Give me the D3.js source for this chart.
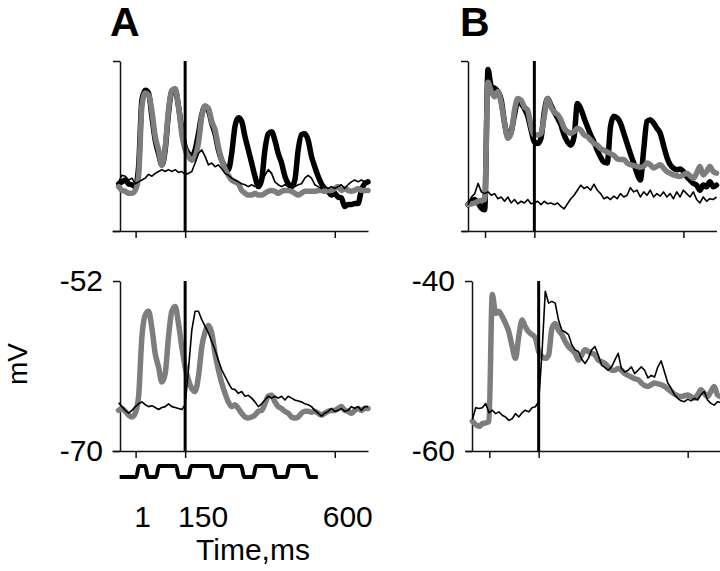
<!DOCTYPE html>
<html><head><meta charset="utf-8">
<script src="https://cdn.jsdelivr.net/npm/d3@7"></script>
<style>
html,body{margin:0;padding:0;background:#fff;}
svg{display:block;font-family:"Liberation Sans",Arial,sans-serif;}
</style></head>
<body><svg id="chart" width="720" height="571"></svg>
<script>
// ---- data (time in ms, membrane potential in mV) ----
const timeMs = [-50,-40,-30,-20,-10,0,10,20,30,40,50,60,70,80,90,100,110,120,130,140,150,160,170,180,190,200,210,220,230,240,250,260,270,280,290,300,310,320,330,340,350,360,370,380,390,400,410,420,430,440,450,460,470,480,490,500,510,520,530,540,550,560,570,580,590,600,610,620,630,640,650,660,670,680,690,700];

const aTopBlack = [-65.0,-64.8,-64.6,-65.0,-65.1,-65.3,-63.2,-56.1,-55.1,-55.4,
 -57.9,-60.4,-61.8,-63.0,-61.4,-57.5,-55.2,-55.1,-56.8,-59.3,
 -61.1,-61.8,-62.1,-61.4,-59.7,-57.7,-56.8,-57.2,-58.6,-59.7,
 -61.4,-62.5,-63.2,-63.5,-61.8,-58.9,-58.0,-58.4,-60.0,-61.4,
 -62.8,-64.2,-65.3,-64.6,-61.4,-59.7,-59.5,-60.4,-61.8,-62.8,
 -64.2,-65.0,-65.3,-64.6,-61.4,-59.8,-59.7,-60.4,-62.1,-63.2,
 -64.2,-65.0,-65.5,-65.8,-66.2,-66.0,-66.4,-66.5,-67.4,-67.2,
 -67.2,-67.1,-67.1,-65.7,-65.0,-64.8];
const aTopGray = [-65.3,-65.7,-65.8,-66.0,-66.0,-65.7,-64.2,-56.8,-55.4,-55.6,
 -57.3,-60.0,-61.4,-63.0,-61.1,-57.2,-55.1,-54.9,-56.8,-59.7,
 -61.4,-62.1,-62.5,-62.1,-60.7,-57.9,-56.8,-57.0,-58.4,-59.3,
 -61.1,-62.5,-63.4,-64.1,-64.6,-64.8,-65.0,-65.7,-66.0,-66.2,
 -66.2,-66.0,-66.2,-66.2,-66.0,-65.8,-65.7,-65.8,-66.0,-65.8,
 -65.7,-65.7,-65.8,-66.0,-66.2,-66.0,-65.8,-65.8,-65.8,-65.8,
 -65.7,-65.7,-65.8,-65.7,-65.7,-65.5,-65.3,-65.7,-65.5,-65.7,
 -65.8,-65.7,-65.5,-65.7,-65.7,-65.7];
const aTopThin = [-64.8,-64.1,-64.2,-64.6,-64.4,-65.0,-64.8,-64.6,-64.4,-64.0,
 -64.2,-63.9,-63.7,-63.5,-63.7,-63.5,-63.7,-63.5,-63.8,-63.7,
 -64.0,-63.9,-63.7,-62.8,-61.8,-61.4,-62.1,-63.0,-62.8,-63.2,
 -63.0,-63.4,-63.9,-64.1,-64.4,-64.6,-64.8,-65.0,-65.1,-65.3,
 -65.1,-65.3,-65.1,-64.8,-64.1,-63.5,-63.9,-64.8,-65.1,-65.3,
 -65.1,-65.3,-65.2,-65.3,-65.1,-65.0,-64.4,-64.1,-64.4,-65.1,
 -65.3,-65.5,-65.3,-65.5,-65.3,-65.5,-65.3,-65.1,-65.5,-65.1,
 -64.8,-64.6,-64.8,-64.6,-64.8,-64.6];

const aBotGray = [-65.7,-65.5,-65.8,-66.2,-66.4,-66.0,-64.2,-57.9,-55.6,-55.2,
 -57.0,-59.7,-61.1,-62.7,-61.8,-57.9,-55.2,-54.7,-56.5,-59.0,
 -61.1,-62.5,-63.4,-63.7,-62.1,-59.0,-57.4,-56.7,-57.5,-59.7,
 -61.4,-62.8,-63.9,-64.8,-65.3,-65.1,-65.5,-66.0,-66.4,-66.5,
 -66.4,-66.2,-65.8,-65.7,-65.0,-64.2,-64.1,-64.8,-65.3,-65.5,
 -65.8,-66.0,-66.4,-66.5,-66.4,-66.0,-65.8,-65.8,-65.9,-65.8,
 -66.0,-66.2,-66.0,-65.8,-65.7,-65.7,-65.5,-65.3,-65.7,-65.8,
 -66.0,-65.7,-65.5,-65.7,-65.5,-65.5];
const aBotThin = [-64.9,-65.3,-65.7,-66.0,-65.7,-65.3,-65.0,-64.8,-65.1,-65.3,
 -65.2,-65.4,-65.6,-65.4,-65.3,-65.0,-65.3,-65.4,-65.5,-65.6,
 -65.1,-61.4,-57.2,-55.2,-55.2,-56.1,-56.8,-57.5,-58.4,-59.3,
 -60.4,-61.4,-62.1,-62.8,-63.4,-63.5,-63.9,-63.7,-64.2,-64.1,
 -64.4,-64.8,-65.3,-65.0,-64.6,-64.2,-64.4,-64.2,-64.4,-64.2,
 -64.6,-64.2,-64.4,-64.6,-64.7,-64.8,-65.0,-65.1,-65.3,-65.7,
 -66.0,-66.3,-66.0,-65.8,-65.5,-65.8,-65.7,-65.5,-65.8,-65.7,
 -65.3,-65.5,-65.3,-65.7,-65.3,-65.3];

const bTopBlack = [-56.9,-56.5,-56.3,-56.7,-57.3,-57.5,-41.0,-43.0,-43.2,-43.6,
 -44.6,-47.3,-48.9,-48.3,-46.3,-44.8,-45.0,-45.6,-46.5,-48.1,
 -49.5,-49.7,-49.1,-46.0,-44.4,-45.2,-46.0,-46.7,-47.5,-48.7,
 -49.5,-49.9,-48.9,-45.0,-45.6,-46.7,-47.7,-48.7,-49.5,-50.5,
 -51.3,-51.9,-52.0,-47.7,-46.5,-46.7,-47.3,-48.5,-49.7,-50.9,
 -52.0,-53.2,-54.0,-50.5,-47.1,-46.9,-47.3,-47.9,-48.5,-49.9,
 -51.3,-52.2,-52.6,-52.8,-52.7,-53.0,-53.6,-54.0,-54.4,-54.6,
 -55.2,-54.6,-54.8,-54.2,-54.8,-54.6];
const bTopGray = [-56.9,-56.8,-56.7,-56.5,-56.4,-56.3,-42.5,-43.6,-44.2,-43.6,
 -45.0,-47.3,-49.1,-48.5,-45.8,-44.4,-44.6,-45.4,-45.8,-47.7,
 -48.7,-48.7,-48.5,-46.5,-44.4,-45.4,-46.0,-46.3,-46.9,-47.9,
 -48.3,-48.5,-48.3,-47.9,-48.1,-48.7,-48.9,-49.3,-49.7,-49.9,
 -50.3,-50.5,-50.7,-50.9,-51.1,-51.5,-51.6,-51.6,-52.0,-52.2,
 -52.3,-52.4,-52.5,-52.4,-52.0,-52.2,-52.6,-52.4,-52.2,-52.6,
 -53.0,-53.2,-53.4,-53.5,-53.6,-53.4,-53.2,-53.5,-53.8,-53.2,
 -52.4,-53.4,-53.0,-52.4,-53.0,-53.2];
const bTopThin = [-56.9,-56.0,-55.6,-54.4,-55.4,-55.6,-55.4,-55.8,-55.6,-56.2,
 -56.0,-56.5,-56.0,-56.7,-56.3,-56.8,-56.5,-56.7,-56.3,-56.8,
 -56.7,-56.5,-56.9,-56.5,-56.8,-56.7,-56.9,-56.7,-57.1,-57.4,
 -56.8,-56.2,-55.8,-55.2,-54.6,-55.0,-54.8,-55.2,-54.5,-55.2,
 -55.6,-56.2,-56.0,-56.3,-55.9,-56.2,-55.6,-56.0,-55.8,-54.9,
 -55.4,-55.2,-56.0,-55.4,-55.8,-55.2,-56.0,-55.6,-55.9,-55.4,
 -56.0,-55.6,-56.2,-55.4,-56.0,-55.2,-55.6,-56.0,-55.4,-56.3,
 -56.7,-56.0,-56.5,-56.2,-56.3,-56.0];

const bBotGray = [-56.5,-56.9,-57.1,-56.8,-56.7,-56.5,-41.6,-43.8,-43.6,-44.2,
 -45.0,-46.0,-47.7,-49.1,-46.5,-44.6,-45.4,-46.0,-46.3,-46.7,
 -48.3,-48.9,-49.1,-48.7,-45.6,-45.0,-45.8,-46.3,-47.1,-47.7,
 -48.1,-48.5,-49.3,-48.7,-48.1,-48.3,-48.5,-48.7,-49.3,-49.5,
 -49.7,-50.1,-50.5,-50.5,-50.3,-50.5,-50.9,-51.1,-51.3,-51.5,
 -51.6,-52.0,-52.3,-52.4,-52.2,-52.0,-52.1,-52.2,-52.4,-52.7,
 -53.0,-53.3,-53.5,-53.6,-53.5,-53.4,-53.6,-53.8,-53.4,-52.8,
 -53.2,-53.6,-53.0,-52.4,-53.4,-53.6];
const bBotThin = [-56.3,-54.9,-55.0,-54.9,-54.4,-55.5,-55.2,-55.6,-55.4,-55.8,
 -56.0,-56.4,-56.2,-55.6,-56.0,-55.5,-55.2,-55.4,-54.9,-54.8,
 -54.2,-48.5,-41.2,-42.6,-42.4,-42.6,-44.6,-45.8,-46.0,-46.3,
 -47.5,-48.1,-48.3,-49.2,-49.7,-49.1,-48.1,-47.7,-48.7,-49.9,
 -50.2,-50.5,-50.1,-49.3,-48.5,-50.3,-50.7,-50.5,-50.1,-50.9,
 -50.5,-50.1,-50.5,-51.4,-51.1,-51.3,-50.1,-49.4,-50.7,-52.0,
 -52.6,-53.4,-53.8,-54.1,-54.2,-53.9,-54.1,-53.8,-54.0,-53.4,
 -53.0,-54.0,-54.4,-54.6,-54.2,-54.3];

// stimulus pulses (ms)
const stimStart = -47, stimEnd = 549;
const pulseOn  = [7, 67, 164, 260, 359, 459];
const pulseOff = [34, 127, 230, 323, 420, 519];

const xTicks = [1, 150, 600];
const xTickLabels = ["1", "150", "600"];
const yDomainA = [-70, -52], yTickLabelsA = ["-70", "-52"];
const yDomainB = [-60, -40], yTickLabelsB = ["-60", "-40"];
const markerTime = 150;
const panelLetters = ["A", "B"];
const xTitle = "Time,ms", yTitle = "mV";

// ---- drawing ----
const svg = d3.select("#chart");
const GRAY = "#7d7d7d";

function panel(cfg) {
  const x = d3.scaleLinear().domain([-70, 700]).range(cfg.xr);
  const y = d3.scaleLinear().domain(cfg.yd).range([cfg.bottom, cfg.top]);
  const g = svg.append("g");

  // x axis
  g.append("g").attr("transform", `translate(0,${cfg.bottom})`)
    .call(d3.axisBottom(x).tickValues(xTicks).tickSize(7).tickSizeOuter(0).tickFormat(""))
    .call(a => a.selectAll("path,line").attr("stroke", "#111").attr("stroke-width", 1.5));
  // y axis
  const ya = d3.axisLeft(y).tickValues(cfg.yd).tickSize(7).tickSizeOuter(0).tickPadding(10)
    .tickFormat((d, i) => cfg.labels ? cfg.labels[i] : "");
  g.append("g").attr("transform", `translate(${cfg.yAxisX},0)`).call(ya)
    .call(a => a.selectAll("path,line").attr("stroke", "#111").attr("stroke-width", 1.5))
    .call(a => a.selectAll("text").attr("font-size", 30).attr("fill", "#000")
      .attr("font-family", '"Liberation Sans",Arial,sans-serif'));

  const mk = (curve) => d3.line().x((d, i) => x(timeMs[i])).y(d => y(d)).curve(curve);
  const thick = mk(d3.curveMonotoneX), thin = mk(d3.curveLinear);
  if (cfg.black) g.append("path").datum(cfg.black).attr("d", thick).attr("fill", "none")
    .attr("stroke", "#000").attr("stroke-width", 5.5).attr("stroke-linejoin", "round").attr("stroke-linecap", "round");
  g.append("path").datum(cfg.gray).attr("d", thick).attr("fill", "none")
    .attr("stroke", GRAY).attr("stroke-width", 5.5).attr("stroke-linejoin", "round").attr("stroke-linecap", "round");
  g.append("path").datum(cfg.thin).attr("d", thin).attr("fill", "none")
    .attr("stroke", "#000").attr("stroke-width", 1.6).attr("stroke-linejoin", "round");

  // marker line at 150 ms
  g.append("line").attr("x1", x(markerTime)).attr("x2", x(markerTime))
    .attr("y1", cfg.top).attr("y2", cfg.bottom).attr("stroke", "#000").attr("stroke-width", 3);
  return x;
}

const xA = panel({xr: [112, 368], yd: yDomainA, top: 61, bottom: 231, yAxisX: 120,
  black: aTopBlack, gray: aTopGray, thin: aTopThin});
panel({xr: [112, 368], yd: yDomainA, top: 281, bottom: 451, yAxisX: 120,
  gray: aBotGray, thin: aBotThin, labels: yTickLabelsA});
panel({xr: [461.5, 716.5], yd: yDomainB, top: 61, bottom: 231, yAxisX: 468,
  black: bTopBlack, gray: bTopGray, thin: bTopThin});
panel({xr: [465.8, 720.8], yd: yDomainB, top: 281, bottom: 451, yAxisX: 472,
  gray: bBotGray, thin: bBotThin, labels: yTickLabelsB});

// stimulus trace
const sy = d3.scaleLinear().domain([0, 1]).range([477, 466]);
const stimPts = [[stimStart, 0]];
pulseOn.forEach((on, i) => {
  stimPts.push([on - 4, 0], [on + 4, 1], [pulseOff[i] - 4, 1], [pulseOff[i] + 4, 0]);
});
stimPts.push([stimEnd, 0]);
svg.append("path").datum(stimPts)
  .attr("d", d3.line().x(d => xA(d[0])).y(d => sy(d[1])).curve(d3.curveMonotoneX))
  .attr("fill", "none").attr("stroke", "#000").attr("stroke-width", 4)
  .attr("stroke-linejoin", "round").attr("stroke-linecap", "butt");

// time labels under stimulus
const labelDx = [7, 18, 13];
svg.selectAll("text.xl").data(xTickLabels).join("text").attr("class", "xl")
  .attr("x", (d, i) => xA(xTicks[i]) + labelDx[i]).attr("y", 527)
  .attr("text-anchor", "middle").attr("font-size", 30).text(d => d);

svg.append("text").attr("x", 253).attr("y", 560).attr("text-anchor", "middle")
  .attr("font-size", 30).text(xTitle);
svg.append("text").attr("transform", "translate(27,364) rotate(-90)")
  .attr("text-anchor", "middle").attr("font-size", 28).text(yTitle);

// panel letters
svg.selectAll("text.pl").data(panelLetters).join("text").attr("class", "pl")
  .attr("x", (d, i) => [110, 460][i]).attr("y", 36)
  .attr("font-size", 41).attr("font-weight", "bold").text(d => d);
</script>
</body></html>
